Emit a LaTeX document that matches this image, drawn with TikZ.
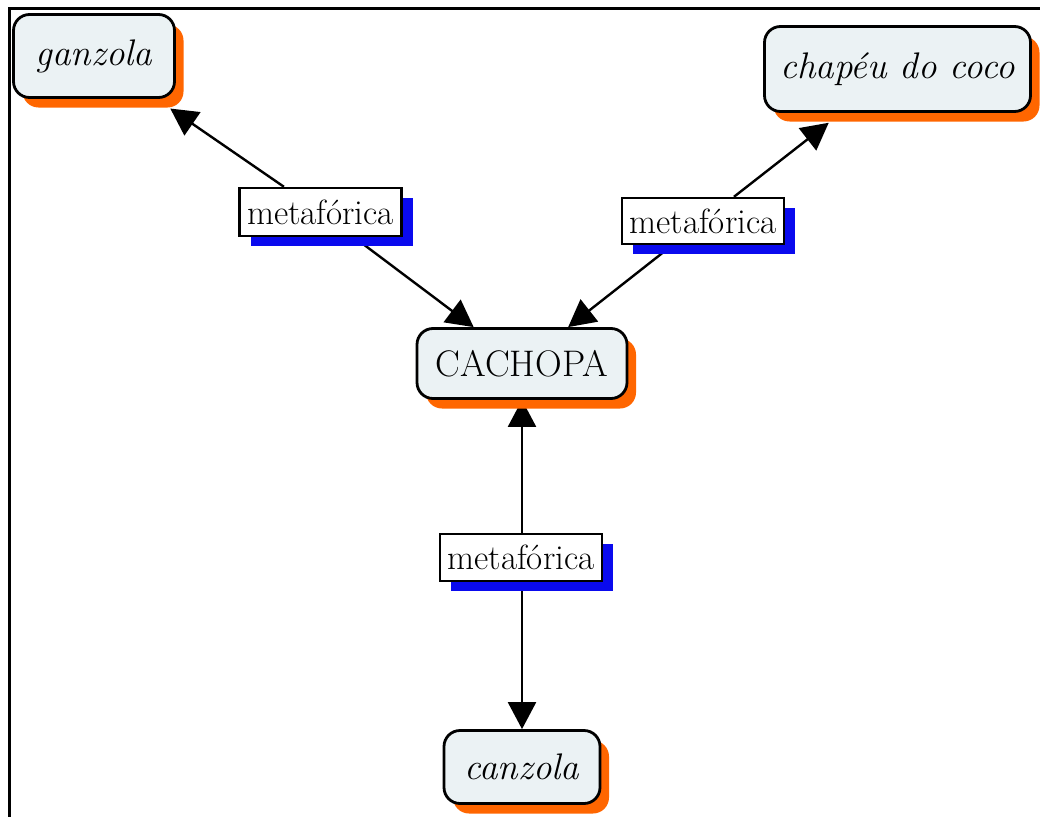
\documentclass[tikz,border=0pt]{standalone}
\usepackage{tikz}
\usetikzlibrary{arrows.meta, shadows, backgrounds}
\definecolor{shadoworange}{HTML}{FF6600}
\definecolor{shadowblue}{HTML}{0A0AEE}
\definecolor{conceptfill}{HTML}{EBF2F4}
\newcommand{\mapfont}{\fontsize{37}{44}\selectfont}
\newcommand{\linkfont}{\fontsize{35}{42}\selectfont}
\tikzset{>={Triangle[length=27pt, width=28pt]}}
\tikzset{
    concept/.style={draw, line width=2.8pt, rounded corners=16pt, fill=conceptfill, inner sep=0pt,
        drop shadow={shadow xshift=9pt, shadow yshift=-10pt, fill=shadoworange, opacity=1},
        font=\mapfont},
    italic/.style={font=\mapfont\itshape},
    linkword/.style={draw, line width=2.4pt, fill=white, inner sep=0pt,
        drop shadow={shadow xshift=11pt, shadow yshift=-10pt, fill=shadowblue, opacity=1},
        font=\linkfont, minimum width=162pt},
    link/.style={->, line width=2.4pt}
}

\begin{document}
\begin{tikzpicture}[x=1pt, y=-1pt]
    \useasboundingbox (0,0) rectangle (1040,816);
    \draw[line width=3pt] (9.5,8.5) rectangle (1080,860);
    % concepts
    \node[concept, italic, minimum width=161pt, minimum height=83pt] (ganzola) at (94,56) {ganzola};
    \node[concept, italic, minimum width=266pt, minimum height=85pt] (chapeu) at (897.5,69) {chapéu do coco};
    \node[concept, minimum width=210pt, minimum height=70pt] (cachopa) at (522,363.5) {CACHOPA};
    \node[concept, italic, minimum width=156pt, minimum height=73pt] (canzola) at (522,767) {canzola};
    % linking words
    \node[linkword, minimum height=48pt] (mfL) at (320.5,212) {metafórica};
    \node[linkword, minimum height=46pt] (mfR) at (703,221) {metafórica};
    \node[linkword, minimum height=47pt] (mfB) at (521,557.5) {metafórica};
    \begin{scope}[on background layer]
        \fill[white] (0,0) rectangle (1040,816);
        \draw[link, shorten >=17pt] (mfL) -- (ganzola);
        \draw[link] (mfL) -- (cachopa);
        \draw[link, shorten >=16pt] (mfR) -- (chapeu);
        \draw[link] (mfR) -- (cachopa);
        \draw[link] (mfB.north -| cachopa) -- (cachopa);
        \draw[link] (mfB.south -| canzola) -- (canzola);
    \end{scope}
\end{tikzpicture}
\end{document}
